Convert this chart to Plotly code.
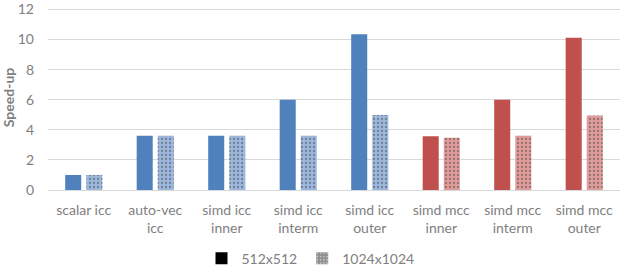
import plotly.graph_objects as go

categories = ["scalar icc", "auto-vec<br>icc", "simd icc<br>inner", "simd icc<br>interm", "simd icc<br>outer",
              "simd mcc<br>inner", "simd mcc<br>interm", "simd mcc<br>outer"]
s512 = [1.0, 3.6, 3.6, 6.0, 10.35, 3.58, 6.0, 10.12]
s1024 = [1.0, 3.6, 3.6, 3.6, 4.98, 3.48, 3.6, 4.95]
compiler = ["icc"] * 5 + ["mcc"] * 3

solid = {"icc": "#4F81BD", "mcc": "#C0504D"}
light = {"icc": "#9DB8DE", "mcc": "#E09C9B"}

font = "Lato, 'Open Sans', sans-serif"
gray = "#808080"

lights = [light[c] for c in compiler]

fig = go.Figure()
fig.add_trace(go.Bar(x=categories, y=s512, name="512x512", showlegend=False,
                     offsetgroup="a",
                     marker=dict(color=[solid[c] for c in compiler], line=dict(width=0))))
fig.add_trace(go.Bar(x=categories, y=s1024, name="1024x1024", showlegend=False,
                     offsetgroup="b",
                     marker=dict(color=lights, line=dict(width=0),
                                 pattern=dict(shape=".", fgcolor="white", bgcolor=lights,
                                              size=4, solidity=0.25))))
# legend entries
fig.add_trace(go.Bar(x=[categories[0]], y=[None], name="512x512", offsetgroup="a",
                     marker=dict(color="black", line=dict(width=0))))
fig.add_trace(go.Bar(x=[categories[0]], y=[None], name="1024x1024", offsetgroup="b",
                     marker=dict(color="#8C8C8C", line=dict(width=0),
                                 pattern=dict(shape=".", fgcolor="white", bgcolor="#8C8C8C",
                                              size=4, solidity=0.25))))

fig.update_layout(
    width=621, height=268,
    margin=dict(l=48, r=1, t=5, b=78),
    paper_bgcolor="white", plot_bgcolor="white",
    barmode="group", bargap=0.41, bargroupgap=0.24,
    font=dict(family=font, color=gray, size=14),
    legend=dict(orientation="h", xref="container", x=0.50, xanchor="center",
                yref="container", y=0.035, yanchor="middle",
                font=dict(size=14, color=gray), itemwidth=30, traceorder="normal",
                tracegroupgap=0),
    showlegend=True,
)
fig.update_xaxes(showgrid=False, showline=False, ticks="", automargin=False,
                 ticklabelstandoff=10, tickfont=dict(size=14, color=gray))
fig.update_yaxes(range=[0, 12.3], tickvals=[0, 2, 4, 6, 8, 10, 12], showgrid=True,
                 gridcolor="#D9D9D9", gridwidth=1,
                 zeroline=True, zerolinecolor="#D9D9D9", zerolinewidth=1, automargin=False,
                 tickfont=dict(size=14, color=gray), ticks="", ticklen=0, ticklabelstandoff=13,
                 title=dict(text="<b>Speed-up</b>", font=dict(size=14, color=gray), standoff=0))

fig.write_html("out.html")
